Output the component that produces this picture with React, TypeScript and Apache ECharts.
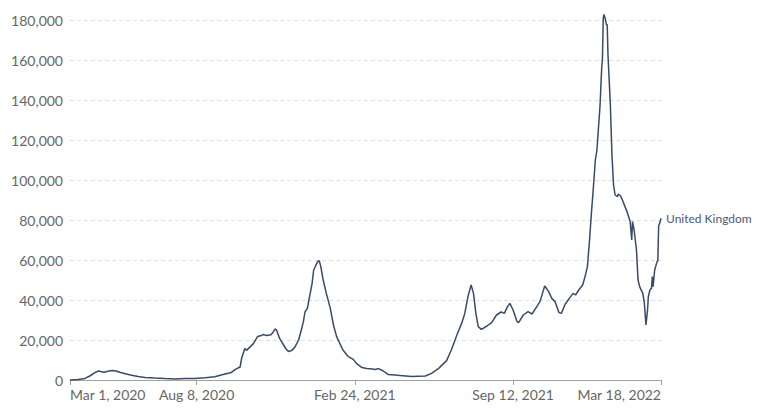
import React, { useEffect, useRef } from "react";
import * as echarts from "echarts";

const END_DAY = 747;

// Days since Mar 1, 2020
const days = [
  0, 10, 19, 25, 32, 36, 43, 48, 53, 58, 63, 71, 78, 86, 95, 107, 120, 133, 145, 158,
  171, 183, 191, 196, 204, 209, 215, 217, 221, 223, 228, 232, 237, 242, 244, 249, 254, 257, 259, 261,
  265, 270, 273, 276, 280, 284, 289, 293, 295, 297, 300, 302, 306, 308, 313, 315, 317, 320, 324, 329,
  333, 337, 341, 345, 351, 354, 358, 362, 369, 375, 380, 386, 390, 396, 402, 411, 417, 432, 440, 449,
  457, 466, 476, 482, 489, 495, 499, 503, 507, 510, 513, 516, 520, 527, 533, 539, 545, 549, 553, 556,
  560, 565, 567, 573, 579, 584, 590, 594, 600, 605, 609, 613, 618, 621, 626, 632, 636, 639, 643, 648,
  651, 654, 657, 659, 661, 664, 666, 670, 672, 673, 674, 675, 677, 678, 679, 680, 683, 685, 687, 689,
  692, 693, 696, 699, 704, 708, 710, 711, 713, 716, 718, 720, 724, 726, 728, 730, 731, 733, 735, 736,
  737, 739, 742, 743, 744, 746, 747,
];

// New daily cases (7-day average)
const cases = [
  50, 200, 800, 2000, 3800, 4500, 3900, 4400, 4700, 4500, 3900, 3000, 2400, 1800, 1300, 1000, 750, 550, 700, 800,
  1100, 1650, 2500, 3000, 3800, 5300, 6500, 11000, 15800, 14800, 16700, 18300, 21700, 22200, 22700, 22300, 22600, 24000, 25500, 25000,
  20800, 17500, 15500, 14300, 14700, 16300, 20000, 26000, 29200, 34000, 35800, 40000, 48300, 55000, 59200, 59700, 56700, 50000, 43300, 35800,
  27500, 21700, 18300, 15000, 12000, 11200, 10300, 8300, 6200, 5700, 5600, 5300, 5700, 4500, 2800, 2500, 2300, 1800, 1900, 2000,
  3300, 5800, 9700, 15000, 22500, 28300, 33300, 41700, 47500, 43300, 33300, 26700, 25300, 27000, 28700, 32500, 34000, 33300, 36700, 38300,
  35000, 29200, 28700, 32500, 34200, 33000, 36700, 39200, 47000, 44200, 40800, 39200, 33700, 33300, 38000, 41300, 43300, 42500, 45000, 47500,
  51700, 56700, 71700, 83300, 93300, 110000, 115000, 137500, 155800, 161000, 180800, 182800, 180000, 177500, 177800, 162500, 137500, 112500, 97500, 92500,
  91700, 93000, 92000, 89200, 84200, 79200, 70000, 79200, 75000, 65000, 50000, 46700, 43300, 38300, 27500, 35000, 41700, 45000, 45800, 51700,
  46700, 55000, 59200, 59500, 76700, 79200, 80800,
];

const tickDays = [0, 160, 360, 560, 747];
const tickLabels = ["Mar 1, 2020", "Aug 8, 2020", "Feb 24, 2021", "Sep 12, 2021", "Mar 18, 2022"];
const seriesName = "United Kingdom";

const FONT = "Lato, 'Noto Sans', sans-serif";

export default function App() {
  const ref = useRef<HTMLDivElement>(null);
  useEffect(() => {
    if (!ref.current) return;
    const chart = echarts.init(ref.current, undefined, { renderer: "svg" });
    const data = days.map((d, i) => [d, cases[i]]);
    chart.setOption({
      animation: false,
      backgroundColor: "#ffffff",
      grid: { left: 70, right: 103, top: 20, bottom: 30, containLabel: false, outerBoundsMode: "none" },
      xAxis: {
        type: "value",
        min: 0,
        max: END_DAY,
        axisLine: { show: true, onZero: false, lineStyle: { color: "#a0a0a0", width: 1 } },
        axisTick: { show: true, length: 5, lineStyle: { color: "#a0a0a0" }, customValues: tickDays },
        splitLine: { show: false },
        axisLabel: {
          customValues: tickDays,
          color: "#666666",
          fontSize: 14,
          fontFamily: FONT,
          margin: 7,
          alignMinLabel: "left",
          alignMaxLabel: "right",
          formatter: (v: number) => {
            const idx = tickDays.indexOf(Math.round(v));
            return idx >= 0 ? tickLabels[idx] : "";
          },
        },
      },
      yAxis: {
        type: "value",
        min: 0,
        max: 180000,
        interval: 20000,
        axisLine: { show: false },
        axisTick: { show: false },
        splitLine: { show: true, lineStyle: { color: "#dddddd", type: [4, 3], width: 1 } },
        axisLabel: {
          color: "#666666",
          fontSize: 14,
          fontFamily: FONT,
          margin: 7,
          formatter: (v: number) => v.toLocaleString("en-US"),
        },
      },
      series: [
        {
          name: seriesName,
          type: "line",
          data,
          showSymbol: false,
          clip: false,
          lineStyle: { color: "#3a4b68", width: 1.5 },
          itemStyle: { color: "#3a4b68" },
          endLabel: {
            show: true,
            formatter: seriesName,
            color: "#4a5877",
            fontSize: 12,
            fontFamily: FONT,
            distance: 5,
          },
        },
      ],
    });
    return () => chart.dispose();
  }, []);
  return (
    <div
      ref={ref}
      style={{ position: "absolute", left: 0, top: 0, width: 764, height: 410 }}
    />
  );
}
